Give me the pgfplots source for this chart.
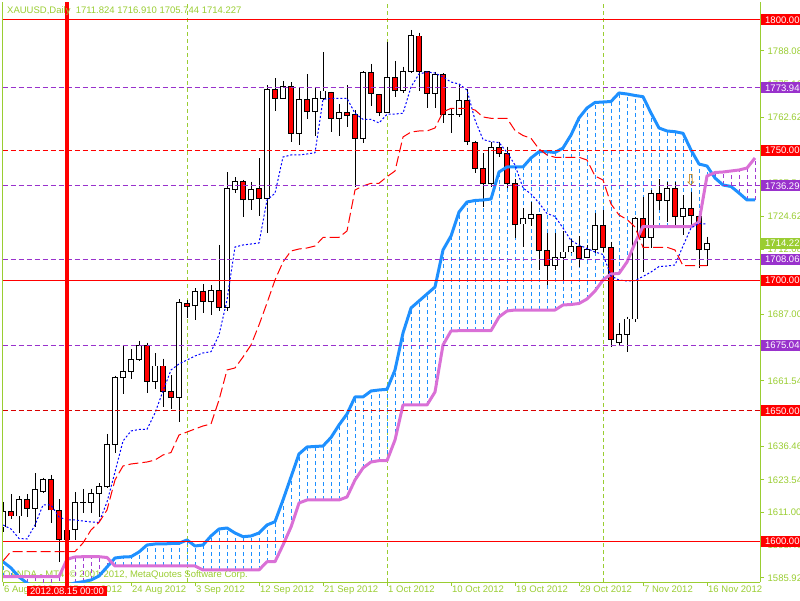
\documentclass[border=0pt]{standalone}
\usepackage{pgfplots}
\pgfplotsset{compat=1.18}
\usepackage{pgfplotstable}
\usepackage{fontspec}
\setmainfont{Liberation Sans}
\newfontfamily\dejavu{DejaVu Sans}
\definecolor{yg}{RGB}{154,205,50}
\definecolor{purp}{RGB}{153,50,204}
\definecolor{dblue}{RGB}{30,144,255}
\definecolor{orch}{RGB}{218,112,214}
\definecolor{hpurp}{RGB}{160,60,210}
\definecolor{arrowc}{RGB}{190,120,0}

\pgfplotstableread{
i o h l c
0 1605.48 1615.07 1603.57 1611.24
1 1611.35 1618.03 1608.44 1609.70
2 1609.70 1617.37 1603.07 1616.11
3 1616.11 1618.03 1609.20 1612.66
4 1612.66 1626.08 1605.60 1619.68
5 1619.02 1624.39 1618.64 1623.78
6 1623.78 1625.43 1606.90 1612.00
7 1611.74 1616.11 1592.17 1600.76
8 1600.76 1606.63 1589.76 1604.06
9 1604.60 1618.79 1600.50 1614.80
10 1614.80 1620.06 1610.97 1615.07
11 1614.96 1620.06 1610.97 1618.41
12 1618.41 1622.25 1609.20 1620.94
13 1620.94 1641.16 1620.33 1637.21
14 1637.21 1663.52 1633.98 1662.91
15 1662.91 1674.91 1656.50 1665.21
16 1665.21 1673.65 1662.26 1669.81
17 1669.81 1676.83 1669.28 1675.18
18 1675.18 1676.18 1656.77 1661.37
19 1661.37 1672.11 1658.53 1667.24
20 1667.24 1670.04 1651.63 1657.54
21 1657.54 1663.67 1650.75 1655.24
22 1655.24 1692.94 1645.88 1691.41
23 1691.29 1692.56 1685.54 1689.99
24 1690.26 1697.05 1684.89 1695.74
25 1695.74 1698.58 1687.69 1691.91
26 1691.91 1698.31 1686.81 1696.13
27 1696.13 1713.66 1688.46 1689.76
28 1689.76 1741.55 1688.46 1735.41
29 1735.02 1739.63 1733.49 1737.94
30 1737.94 1738.59 1724.51 1730.92
31 1730.92 1737.94 1727.08 1735.02
32 1735.41 1746.92 1724.90 1731.57
33 1731.57 1775.03 1718.38 1773.38
34 1773.38 1777.60 1765.18 1769.93
35 1769.93 1776.57 1769.93 1774.38
36 1774.38 1776.07 1753.28 1756.51
37 1756.51 1773.77 1752.02 1769.28
38 1769.28 1779.25 1761.99 1764.79
39 1764.79 1773.77 1755.47 1769.93
40 1769.93 1787.69 1769.28 1772.73
41 1772.23 1772.50 1757.12 1762.26
42 1762.26 1767.75 1755.59 1764.56
43 1764.56 1775.03 1758.81 1763.26
44 1763.53 1765.44 1736.02 1754.59
45 1754.59 1780.40 1752.90 1779.91
46 1779.91 1783.09 1767.09 1771.85
47 1771.47 1771.60 1763.26 1764.56
48 1764.56 1791.64 1764.40 1777.99
49 1777.99 1784.24 1770.55 1772.85
50 1772.85 1782.05 1771.85 1780.14
51 1780.14 1796.13 1779.52 1794.21
52 1793.83 1795.10 1772.85 1780.14
53 1780.14 1780.30 1766.33 1771.85
54 1771.85 1780.14 1766.33 1778.87
55 1779.14 1779.52 1760.34 1763.79
56 1763.79 1766.10 1756.74 1763.90
57 1763.79 1775.03 1762.87 1769.16
58 1769.16 1773.50 1752.02 1753.28
59 1753.05 1753.67 1741.39 1743.08
60 1743.08 1748.83 1728.12 1737.06
61 1737.06 1753.05 1736.02 1751.14
62 1751.14 1753.28 1747.30 1748.83
63 1748.83 1751.37 1735.41 1737.33
64 1737.33 1738.86 1716.23 1721.33
65 1721.71 1727.74 1713.01 1723.90
66 1723.90 1730.27 1720.95 1725.43
67 1725.43 1725.60 1704.07 1711.36
68 1711.36 1718.15 1698.31 1705.87
69 1705.87 1718.15 1704.07 1709.05
70 1709.05 1719.03 1700.23 1710.97
71 1710.97 1715.96 1710.70 1713.16
72 1713.16 1717.11 1705.10 1708.56
73 1709.05 1713.66 1708.56 1711.74
74 1711.74 1725.82 1710.47 1721.21
75 1721.21 1727.08 1710.86 1712.78
76 1712.78 1714.92 1674.42 1677.48
77 1676.18 1683.62 1675.30 1679.40
78 1679.40 1686.15 1672.50 1685.27
79 1685.27 1724.51 1684.01 1723.90
80 1723.90 1732.19 1703.42 1716.61
81 1716.61 1734.76 1712.39 1733.49
82 1733.49 1738.86 1727.08 1730.65
83 1730.65 1737.94 1722.60 1735.41
84 1735.41 1737.94 1720.95 1724.51
85 1724.51 1732.84 1717.49 1727.74
86 1727.74 1734.10 1720.06 1724.90
87 1724.51 1725.82 1704.72 1711.74
88 1711.824 1716.910 1705.744 1714.227
}\candles

\pgfplotstableread{
i a b
0 1592.17 1586.42
1 1589.76 1586.42
2 1586.30 1586.42
3 1584.00 1586.42
4 1582.08 1586.42
5 1581.32 1586.42
6 1581.32 1586.42
7 1582.08 1586.42
8 1583.24 1593.09
9 1584.00 1593.97
10 1584.50 1594.09
11 1585.15 1594.09
12 1586.69 1594.09
13 1590.14 1593.78
14 1593.59 1590.52
15 1593.97 1590.52
16 1594.09 1590.52
17 1595.89 1590.52
18 1598.58 1590.52
19 1598.96 1590.52
20 1598.96 1590.52
21 1599.15 1590.52
22 1599.23 1590.52
23 1600.50 1590.52
24 1598.19 1590.52
25 1598.58 1589.00
26 1602.03 1589.00
27 1604.71 1589.00
28 1605.10 1589.00
29 1603.18 1589.00
30 1601.77 1589.00
31 1602.03 1589.00
32 1603.18 1589.00
33 1606.25 1592.17
34 1607.51 1592.17
35 1615.84 1598.58
36 1624.66 1605.48
37 1633.49 1614.69
38 1636.17 1615.84
39 1636.37 1615.84
40 1636.55 1615.84
41 1639.81 1615.84
42 1644.61 1615.84
43 1648.83 1616.99
44 1655.35 1623.51
45 1655.35 1628.12
46 1657.65 1630.42
47 1658.04 1630.92
48 1658.30 1630.92
49 1665.71 1638.86
50 1679.90 1652.28
51 1689.49 1652.28
52 1692.18 1652.28
53 1694.86 1652.28
54 1697.55 1657.27
55 1711.74 1675.30
56 1717.11 1680.67
57 1726.32 1680.78
58 1730.15 1680.78
59 1730.73 1680.78
60 1730.92 1680.78
61 1731.30 1680.78
62 1741.66 1686.04
63 1743.58 1688.34
64 1743.58 1688.72
65 1743.58 1688.72
66 1747.03 1688.72
67 1749.45 1688.72
68 1749.45 1688.72
69 1749.14 1688.72
70 1750.87 1690.64
71 1755.85 1690.83
72 1762.37 1691.22
73 1766.21 1692.94
74 1768.32 1696.01
75 1768.51 1700.23
76 1768.70 1702.53
77 1771.97 1702.73
78 1771.58 1707.14
79 1771.01 1714.43
80 1770.55 1720.75
81 1764.29 1720.75
82 1758.54 1720.75
83 1757.39 1720.75
84 1757.12 1720.75
85 1756.51 1720.75
86 1750.10 1720.75
87 1744.73 1722.48
88 1743.96 1740.13
89 1739.36 1741.47
90 1736.67 1741.66
91 1736.10 1742.05
92 1733.60 1742.43
93 1730.92 1743.20
94 1730.92 1747.03
}\cloud

\pgfplotstableread{
i t k
0 1606.25 1592.44
1 1604.72 1596.08
2 1601.07 1596.08
3 1600.88 1596.08
4 1606.25 1596.08
5 1613.92 1596.08
6 1613.92 1596.08
7 1609.32 1596.08
8 1608.17 1596.08
9 1608.17 1596.08
10 1607.78 1599.35
11 1607.40 1604.33
12 1607.21 1607.21
13 1615.07 1612.00
14 1626.58 1623.51
15 1638.47 1628.88
16 1642.31 1629.65
17 1642.88 1630.03
18 1642.96 1630.42
19 1649.21 1631.18
20 1657.65 1633.10
21 1665.71 1634.06
22 1668.01 1640.77
23 1669.54 1641.92
24 1671.08 1643.08
25 1672.23 1644.23
26 1672.73 1644.99
27 1679.13 1654.20
28 1692.56 1665.71
29 1712.89 1666.48
30 1713.66 1670.69
31 1714.04 1675.30
32 1714.43 1682.97
33 1730.92 1691.41
34 1733.49 1700.23
35 1747.41 1707.14
36 1748.18 1711.36
37 1748.18 1712.12
38 1748.57 1712.51
39 1749.06 1713.27
40 1769.47 1716.54
41 1769.86 1716.61
42 1769.93 1716.61
43 1769.93 1719.03
44 1764.18 1734.76
45 1761.88 1736.29
46 1761.88 1737.33
47 1760.46 1737.33
48 1763.79 1739.86
49 1763.91 1742.04
50 1764.18 1755.09
51 1774.27 1757.00
52 1779.25 1757.39
53 1780.02 1757.39
54 1779.64 1758.54
55 1778.10 1764.68
56 1776.18 1766.10
57 1775.42 1766.10
58 1773.12 1766.10
59 1761.61 1765.44
60 1754.13 1762.76
61 1753.28 1762.26
62 1752.98 1762.26
63 1749.14 1762.26
64 1744.35 1757.58
65 1735.52 1755.66
66 1733.22 1754.59
67 1729.77 1750.48
68 1725.74 1748.18
69 1724.59 1747.30
70 1720.18 1747.30
71 1715.38 1747.30
72 1713.66 1747.30
73 1712.32 1746.26
74 1710.97 1740.13
75 1710.01 1738.59
76 1701.77 1729.39
77 1700.23 1725.17
78 1699.85 1723.44
79 1700.04 1720.56
80 1701.57 1712.78
81 1703.30 1712.78
82 1705.41 1712.78
83 1705.60 1712.78
84 1705.99 1711.74
85 1713.27 1705.72
86 1720.18 1705.72
87 1721.91 1705.72
88 1721.71 1705.72
}\tk

\newcommand{\hlevel}[2]{\addplot[#2, line width=1pt, mark=none] coordinates {(-0.0625,#1) (94.625,#1)};}
\tikzset{plab/.style={fill=#1, anchor=west, inner xsep=4pt, inner ysep=0pt, minimum height=11pt, text=white, text depth=0pt}}
\pgfplotsset{ebar/.style={draw=none, mark=none, error bars/y explicit, error bars/error mark=none}}

\begin{document}
\begin{tikzpicture}[font=\fontsize{9.5}{11}\selectfont]
\path[use as bounding box] (0pt,0pt) rectangle (800pt,600pt);
\begin{axis}[
  at={(2.5pt,18pt)}, anchor=south west,
  scale only axis, width=757.5pt, height=579.5pt,
  xmin=-0.0625, xmax=94.625, ymin=1584.38, ymax=1806.68,
  axis x line*=bottom, axis y line*=right,
  axis line style={yg, line width=1pt, -},
  tick align=outside, major tick length=4pt,
  every tick/.style={yg, line width=1pt},
  xtick={0,8,16,24,32,40,48,56,64,72,80,88},
  xticklabels={6 Aug 2012,15 Aug 2012,24 Aug 2012,3 Sep 2012,12 Sep 2012,21 Sep 2012,1 Oct 2012,10 Oct 2012,19 Oct 2012,29 Oct 2012,7 Nov 2012,16 Nov 2012},
  xticklabel style={anchor=north west, text=yg, inner sep=0pt, xshift=1pt},
  ytick={1585.92,1598.46,1611.00,1623.54,1636.46,1649.00,1661.54,1674.08,1687.00,1699.54,1712.08,1724.62,1737.54,1750.08,1762.62,1775.16,1788.08,1800.68},
  yticklabels={1585.920,1598.460,1611.000,1623.540,1636.460,1649.000,1661.540,1674.080,1687.000,1699.540,1712.080,1724.620,1737.540,1750.080,1762.620,1775.160,1788.080,1800.680},
  yticklabel style={anchor=west, text=yg, inner sep=0pt, xshift=3.5pt},
]
% watermark
\node[anchor=west, text=yg, inner sep=0pt] at (axis cs:0,1587.07) {OANDA - MT4, \textcopyright{} 2001-2012, MetaQuotes Software Corp.};
% period separators
\addplot[yg, line width=1pt, dash pattern=on 4pt off 3pt, mark=none] coordinates {(23,1584.38) (23,1806.68)};
\addplot[yg, line width=1pt, dash pattern=on 4pt off 3pt, mark=none] coordinates {(48,1584.38) (48,1806.68)};
\addplot[yg, line width=1pt, dash pattern=on 4pt off 3pt, mark=none] coordinates {(75,1584.38) (75,1806.68)};
% cloud hatching (vertical segments between the two spans)
\addplot[dblue, line width=1pt, dash pattern=on 4pt off 3pt, mark=none,
  quiver={u=0, v={max(\thisrow{a}-\thisrow{b},0)}}] table[x=i, y=b] {\cloud};
\addplot[hpurp, line width=1pt, dash pattern=on 4pt off 3pt, mark=none,
  quiver={u=0, v={max(\thisrow{b}-\thisrow{a},0)}}] table[x=i, y=a] {\cloud};
% candles: wicks
\addplot[ebar, error bars/y dir=minus,
  error bars/error bar style={draw=black, line width=1pt, solid}]
  table[x=i, y=h, y error minus expr={\thisrow{h}-\thisrow{l}}] {\candles};
% bodies outline
\addplot[ebar, error bars/y dir=plus,
  error bars/error bar style={draw=black, line width=6pt, solid}]
  table[x=i, y expr={min(\thisrow{o},\thisrow{c})-0.19}, y error plus expr={abs(\thisrow{c}-\thisrow{o})+0.38}] {\candles};
% bull fill
\addplot[ebar, error bars/y dir=plus,
  error bars/error bar style={draw=white, line width=4pt, solid}]
  table[x=i, y expr={min(\thisrow{o},\thisrow{c})+0.19}, y error plus expr={max(\thisrow{c}-\thisrow{o}-0.38,0)}] {\candles};
% bear fill
\addplot[ebar, error bars/y dir=plus,
  error bars/error bar style={draw=red, line width=4pt, solid}]
  table[x=i, y expr={min(\thisrow{o},\thisrow{c})+0.19}, y error plus expr={max(\thisrow{o}-\thisrow{c}-0.38,0)}] {\candles};
% senkou spans
\addplot[dblue, line width=3pt, line join=round, mark=none] table[x=i, y=a] {\cloud};
\addplot[orch, line width=3pt, line join=round, mark=none] table[x=i, y=b] {\cloud};
% tenkan / kijun
\addplot[blue, line width=1pt, dash pattern=on 2pt off 2pt, mark=none] table[x=i, y=t] {\tk};
\addplot[red, line width=1pt, dash pattern=on 10pt off 4pt, mark=none] table[x=i, y=k] {\tk};
% horizontal levels
\hlevel{1800}{red}
\hlevel{1700}{red}
\hlevel{1600}{red}
\hlevel{1750}{red, dash pattern=on 5pt off 3pt}
\hlevel{1650}{red!85!black, dash pattern=on 5pt off 3pt}
\hlevel{1773.94}{purp, dash pattern=on 5pt off 3pt}
\hlevel{1736.29}{purp, dash pattern=on 5pt off 3pt}
\hlevel{1708.06}{purp, dash pattern=on 5pt off 3pt}
\hlevel{1675.04}{purp, dash pattern=on 5pt off 3pt}
% vertical marker line
\addplot[red, line width=3.3pt, mark=none] coordinates {(8,1584.38) (8,1806.68)};
% arrow
\addplot[draw=none, mark=none, nodes near coords={\dejavu\fontsize{15}{15}\selectfont\char"21E9}, nodes near coords align={center}, every node near coord/.style={text=arrowc, inner sep=0pt}] coordinates {(86,1738.4)};
% title
\node[anchor=west, text=yg, inner sep=0pt] at (axis cs:0.5,1803.42) {XAUUSD,Daily\ \ 1711.824 1716.910 1705.744 1714.227};
% anchors for outside labels
\coordinate (D) at (axis cs:8,1584.38);
\coordinate (L1800) at (axis cs:94.75,1800);
\coordinate (L1773) at (axis cs:94.75,1773.94);
\coordinate (L1750) at (axis cs:94.75,1750);
\coordinate (L1736) at (axis cs:94.75,1736.29);
\coordinate (L1714) at (axis cs:94.75,1714.227);
\coordinate (L1708) at (axis cs:94.75,1708.06);
\coordinate (L1700) at (axis cs:94.75,1700);
\coordinate (L1675) at (axis cs:94.75,1675.04);
\coordinate (L1650) at (axis cs:94.75,1650);
\coordinate (L1600) at (axis cs:94.75,1600);
\end{axis}
\draw[yg, line width=1pt] (2.5pt,18pt) -- (2.5pt,597.5pt);
\draw[red, line width=3.3pt] (D) -- ++(0,-4pt);
\node[fill=red, text=white, anchor=north, inner xsep=3pt, inner ysep=1.6pt, text depth=0pt] at ([yshift=-4pt]D) {2012.08.15 00:00};
\node[plab=red] at (L1800) {1800.000};
\node[plab=purp] at (L1773) {1773.940};
\node[plab=red] at (L1750) {1750.000};
\node[plab=purp] at (L1736) {1736.290};
\node[plab=yg] at (L1714) {1714.227};
\node[plab=purp] at (L1708) {1708.060};
\node[plab=red] at (L1700) {1700.000};
\node[plab=purp] at (L1675) {1675.040};
\node[plab=red] at (L1650) {1650.000};
\node[plab=red] at (L1600) {1600.000};
\end{tikzpicture}
\end{document}
